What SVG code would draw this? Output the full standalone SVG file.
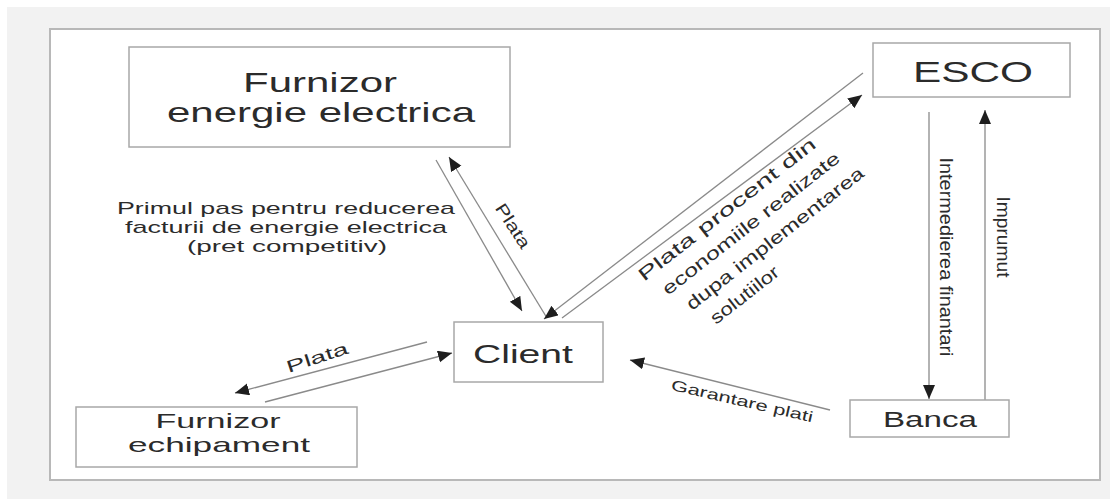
<svg xmlns="http://www.w3.org/2000/svg" width="1110" height="499" viewBox="0 0 1110 499">
<defs>
<style>
.box{fill:#fff;stroke:#a8a8a8;stroke-width:1.5}
.t{font-family:"Liberation Sans",Arial,sans-serif;fill:#2b2b2b}
.c{stroke:#8a8a8a;stroke-width:1.3;fill:none}
</style>
<marker id="ah" markerUnits="userSpaceOnUse" markerWidth="16" markerHeight="14" refX="14" refY="6" orient="auto">
<path d="M0,0 L14,6 L0,12 z" fill="#1e1e1e"/>
</marker>
</defs>
<rect x="0" y="0" width="1110" height="499" fill="#fff"/>
<rect x="7" y="7" width="1103" height="492" fill="#f2f2f2"/>
<rect x="50" y="29" width="1050" height="451" fill="#fff" stroke="#b8b8b8" stroke-width="2"/>

<g id="connectors">
<line class="c" x1="436" y1="160" x2="522" y2="311" marker-end="url(#ah)"/>
<line class="c" x1="547" y1="318" x2="449" y2="157" marker-end="url(#ah)"/>
<line class="c" x1="863" y1="73" x2="544" y2="319" marker-end="url(#ah)"/>
<line class="c" x1="562" y1="318" x2="862" y2="95" marker-end="url(#ah)"/>
<line class="c" x1="929" y1="112" x2="929" y2="399" marker-end="url(#ah)"/>
<line class="c" x1="985" y1="400" x2="985" y2="110" marker-end="url(#ah)"/>
<line class="c" x1="830" y1="410" x2="630" y2="360" marker-end="url(#ah)"/>
<line class="c" x1="427" y1="342" x2="235" y2="393" marker-end="url(#ah)"/>
<line class="c" x1="265" y1="402" x2="452" y2="353" marker-end="url(#ah)"/>
</g>

<g id="labels">
<text class="t" font-size="17" text-anchor="middle" transform="translate(508,229) rotate(57)" textLength="50" lengthAdjust="spacingAndGlyphs">Plata</text>
<text class="t" font-size="17" text-anchor="middle" transform="translate(319,363) rotate(-18)" textLength="64" lengthAdjust="spacingAndGlyphs">Plata</text>
<text class="t" font-size="15" text-anchor="middle" transform="translate(741,406) rotate(13)" textLength="145" lengthAdjust="spacingAndGlyphs">Garantare plati</text>
<text class="t" font-size="18" text-anchor="middle" transform="translate(940,257) rotate(90)" textLength="199" lengthAdjust="spacingAndGlyphs">Intermedierea finantari</text>
<text class="t" font-size="18" text-anchor="middle" transform="translate(997,237) rotate(90)" textLength="81" lengthAdjust="spacingAndGlyphs">Imprumut</text>
<text class="t" font-size="18" transform="translate(644,282) rotate(-38)" textLength="220" lengthAdjust="spacingAndGlyphs">Plata  procent  din</text>
<text class="t" font-size="18" transform="translate(668,296) rotate(-38)" textLength="220" lengthAdjust="spacingAndGlyphs">economiile realizate</text>
<text class="t" font-size="18" transform="translate(692,311) rotate(-38)" textLength="220" lengthAdjust="spacingAndGlyphs">dupa implementarea</text>
<text class="t" font-size="18" transform="translate(716,325) rotate(-38)" textLength="82" lengthAdjust="spacingAndGlyphs">solutiilor</text>
<text class="t" font-size="17" text-anchor="middle" x="286" y="214" textLength="338" lengthAdjust="spacingAndGlyphs">Primul pas pentru reducerea</text>
<text class="t" font-size="17" text-anchor="middle" x="286" y="233" textLength="322" lengthAdjust="spacingAndGlyphs">facturii de energie electrica</text>
<text class="t" font-size="17" text-anchor="middle" x="287" y="252" textLength="200" lengthAdjust="spacingAndGlyphs">(pret competitiv)</text>
</g>

<g id="furnizor-energie">
<rect class="box" x="129" y="47" width="381" height="100"/>
<text class="t" font-size="28" text-anchor="middle" x="320" y="92" textLength="154" lengthAdjust="spacingAndGlyphs">Furnizor</text>
<text class="t" font-size="28" text-anchor="middle" x="321" y="122" textLength="308" lengthAdjust="spacingAndGlyphs">energie electrica</text>
</g>
<g id="esco">
<rect class="box" x="873" y="43" width="197" height="54"/>
<text class="t" font-size="30" text-anchor="middle" x="973" y="82" textLength="120" lengthAdjust="spacingAndGlyphs">ESCO</text>
</g>
<g id="client">
<rect class="box" x="454" y="322" width="149" height="60"/>
<text class="t" font-size="26" text-anchor="middle" x="523" y="363" textLength="100" lengthAdjust="spacingAndGlyphs">Client</text>
</g>
<g id="banca">
<rect class="box" x="850" y="400" width="159" height="37"/>
<text class="t" font-size="22" text-anchor="middle" x="930" y="427" textLength="94" lengthAdjust="spacingAndGlyphs">Banca</text>
</g>
<g id="furnizor-echipament">
<rect class="box" x="76" y="407" width="281" height="60"/>
<text class="t" font-size="21" text-anchor="middle" x="218" y="428" textLength="125" lengthAdjust="spacingAndGlyphs">Furnizor</text>
<text class="t" font-size="21" text-anchor="middle" x="219" y="452" textLength="182" lengthAdjust="spacingAndGlyphs">echipament</text>
</g>
</svg>
